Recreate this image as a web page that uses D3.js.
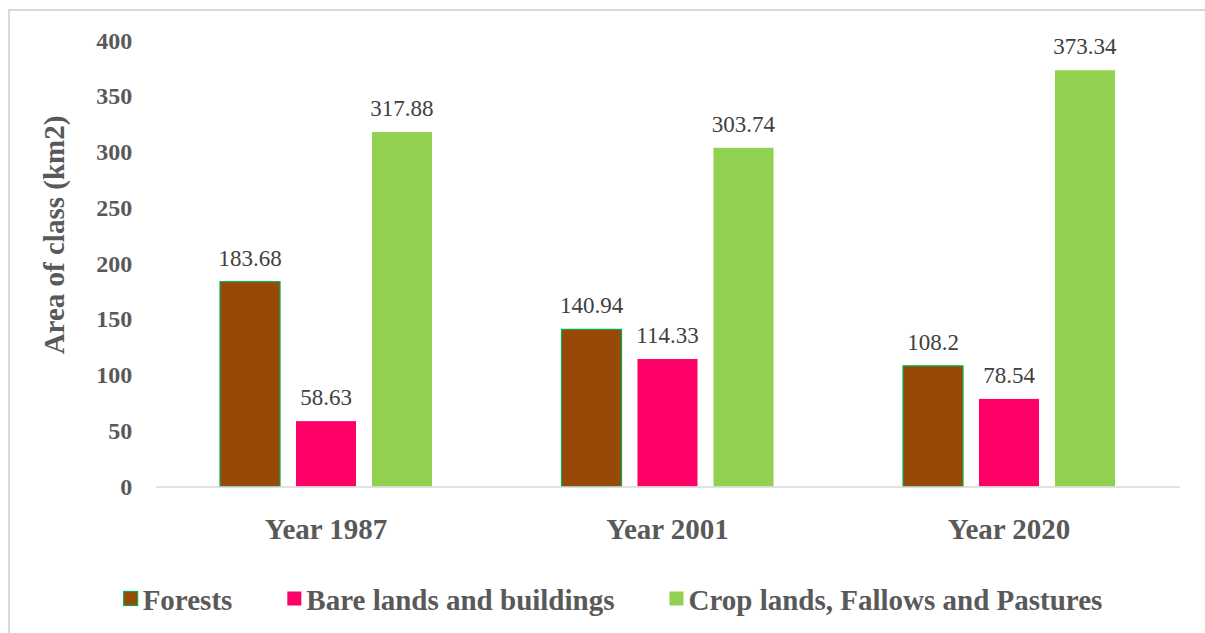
<!DOCTYPE html>
<html>
<head>
<meta charset="utf-8">
<script src="https://cdn.jsdelivr.net/npm/d3@7"></script>
<style>
  html, body { margin: 0; padding: 0; background: #fff; }
  svg { display: block; }
</style>
</head>
<body>
<svg id="chart" width="1205" height="633"></svg>
<script>
const categories = ["Year 1987", "Year 2001", "Year 2020"];
const seriesNames = ["Forests", "Bare lands and buildings", "Crop lands, Fallows and Pastures"];
const forests = [183.68, 140.94, 108.2];
const bareLands = [58.63, 114.33, 78.54];
const cropLands = [317.88, 303.74, 373.34];
const yTicks = [0, 50, 100, 150, 200, 250, 300, 350, 400];
const yTitle = "Area of class (km2)";

const colors = ["#984807", "#FF0066", "#92D050"];
const strokes = ["#00B050", "none", "none"];
const seriesValues = [forests, bareLands, cropLands];
const FONT = '"Liberation Serif", "Times New Roman", serif';

const svg = d3.select("#chart");

// chart border
svg.append("rect")
  .attr("x", 9).attr("y", 10)
  .attr("width", 1230).attr("height", 660)
  .attr("fill", "#fff")
  .attr("stroke", "#d9d9d9").attr("stroke-width", 2);

const plot = { left: 155.25, right: 1179.75, top: 40.5, bottom: 486.5 };

const x0 = d3.scaleBand().domain(categories).range([plot.left, plot.right]).padding(0);
const groupPad = 64.75;
const x1 = d3.scaleBand().domain(seriesNames)
  .range([groupPad, x0.bandwidth() - groupPad]).paddingInner(0.21).paddingOuter(0);
const y = d3.scaleLinear().domain([0, 400]).range([plot.bottom, plot.top]);

// y tick labels
const yAxis = d3.axisLeft(y).tickValues(yTicks).tickSize(0).tickPadding(0).tickFormat(d3.format("d"));
const yg = svg.append("g").attr("transform", `translate(${plot.left - 23},0)`).call(yAxis);
yg.select(".domain").remove();
yg.selectAll("text")
  .style("font-family", FONT)
  .attr("font-size", 24).attr("font-weight", "bold").attr("fill", "#595959");

// y title
svg.append("text")
  .attr("transform", `translate(64,235) rotate(-90)`)
  .attr("text-anchor", "middle")
  .style("font-family", FONT)
  .attr("font-size", 29).attr("font-weight", "bold").attr("fill", "#595959")
  .text(yTitle);

// bars
const groups = svg.append("g").selectAll("g")
  .data(categories).join("g")
  .attr("transform", d => `translate(${x0(d)},0)`);

groups.each(function(cat, ci) {
  const g = d3.select(this);
  seriesNames.forEach((s, si) => {
    const v = seriesValues[si][ci];
    g.append("rect")
      .attr("x", x1(s)).attr("y", y(v))
      .attr("width", x1.bandwidth()).attr("height", y(0) - y(v))
      .attr("fill", colors[si])
      .attr("stroke", strokes[si]).attr("stroke-width", strokes[si] === "none" ? 0 : 1.2);
    g.append("text")
      .attr("x", x1(s) + x1.bandwidth() / 2).attr("y", y(v) - 16)
      .attr("text-anchor", "middle")
      .style("font-family", FONT)
      .attr("font-size", 23).attr("fill", "#404040")
      .text(String(v));
  });
});

// x axis line and category labels
const xAxis = d3.axisBottom(x0).tickSize(0).tickPadding(0);
const xg = svg.append("g").attr("transform", `translate(0,${plot.bottom})`).call(xAxis);
xg.select(".domain").attr("stroke", "#d9d9d9").attr("stroke-width", 1.5);
xg.selectAll("text")
  .style("font-family", FONT)
  .attr("font-size", 29).attr("font-weight", "bold").attr("fill", "#595959")
  .attr("dy", null).attr("y", 539 - plot.bottom);

// legend
const legend = svg.append("g");
const legendBaseline = 610;
const items = legend.selectAll("g").data(seriesNames).join("g");
items.append("rect")
  .attr("width", 14).attr("height", 14)
  .attr("y", 591.5)
  .attr("fill", (d, i) => colors[i])
  .attr("stroke", (d, i) => strokes[i])
  .attr("stroke-width", (d, i) => strokes[i] === "none" ? 0 : 1.2);
items.append("text")
  .attr("x", 19).attr("y", legendBaseline)
  .style("font-family", FONT)
  .attr("font-size", 29).attr("font-weight", "bold").attr("fill", "#595959")
  .text(d => d);
const widths = [];
items.each(function() { widths.push(d3.select(this).select("text").node().getComputedTextLength()); });
const gap = 55;
const total = d3.sum(widths) + widths.length * 19 + gap * (widths.length - 1);
let cx = 613 - total / 2;
items.attr("transform", (d, i) => {
  const t = `translate(${cx},0)`;
  cx += 19 + widths[i] + gap;
  return t;
});
</script>
</body>
</html>
